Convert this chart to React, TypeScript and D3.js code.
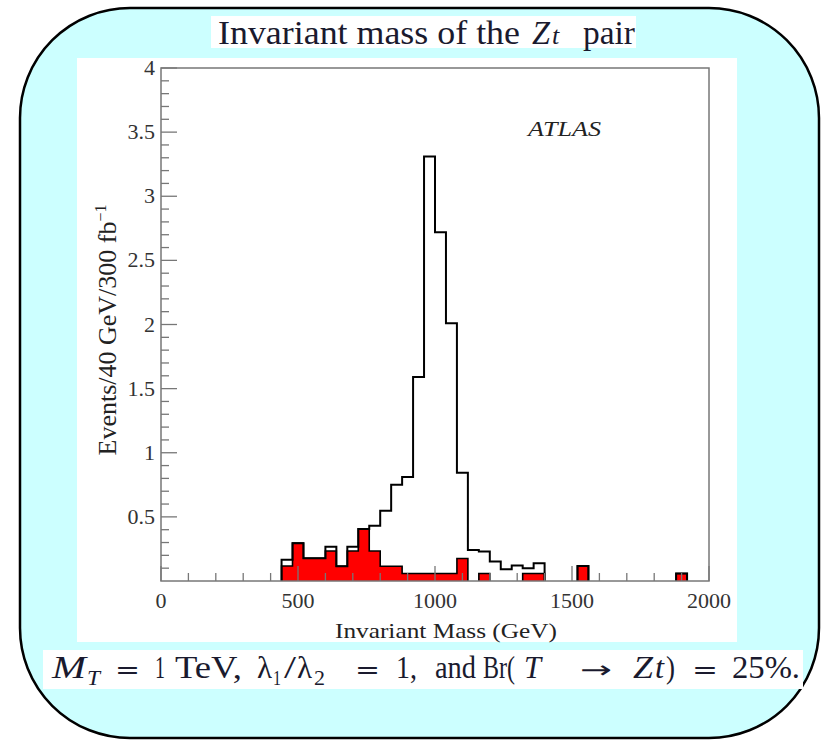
import React from 'react'
import * as d3 from 'd3'

// histogram binning (GeV)
const BIN_START = 440
const BIN_WIDTH = 40

// all events (black outline), 440..1920 GeV
const totalEvents = [
  0.165, 0.295, 0.177, 0.177, 0.268, 0.115, 0.268, 0.405, 0.43, 0.547,
  0.75, 0.81, 1.59, 3.31, 2.72, 2.01, 0.845, 0.242, 0.23, 0.152,
  0.091, 0.12, 0.1, 0.138, 0, 0, 0, 0.117, 0, 0,
  0, 0, 0, 0, 0, 0, 0.058,
]

// background events (red filled), same bins
const bkgEvents = [
  0.117, 0.295, 0.177, 0.177, 0.234, 0.115, 0.234, 0.405, 0.234, 0.115,
  0.115, 0.058, 0.058, 0.058, 0.058, 0.058, 0.175, 0, 0.058, 0,
  0, 0, 0.058, 0.058, 0, 0, 0, 0.117, 0, 0,
  0, 0, 0, 0, 0, 0, 0.058,
]

const xDomain: [number, number] = [0, 2000]
const yDomain: [number, number] = [0, 4]
const xMajorTicks = [0, 500, 1000, 1500, 2000]
const yMajorTicks = [0.5, 1, 1.5, 2, 2.5, 3, 3.5, 4]

const FONT = '"Liberation Serif", "Times New Roman", serif'

// caption pieces: text, left x, width, style
type Piece = { t: string; x: number; w: number; italic?: boolean; sub?: boolean; sym?: boolean }
const captionPieces: Piece[] = [
  { t: 'M', x: 52, w: 34, italic: true },
  { t: 'T', x: 87, w: 13, italic: true, sub: true },
  { t: '=', x: 115, w: 25, sym: true },
  { t: '1', x: 155, w: 10 },
  { t: 'TeV,', x: 175, w: 67 },
  { t: 'λ', x: 257, w: 15 },
  { t: '1', x: 273, w: 8, sub: true },
  { t: '/', x: 284, w: 12 },
  { t: 'λ', x: 297, w: 15 },
  { t: '2', x: 314, w: 11, sub: true },
  { t: '=', x: 355, w: 25, sym: true },
  { t: '1,', x: 396, w: 21 },
  { t: 'and', x: 435, w: 41 },
  { t: 'Br(', x: 483, w: 32 },
  { t: 'T', x: 524, w: 17, italic: true },
  { t: '→', x: 580, w: 32, sym: true },
  { t: 'Z', x: 633, w: 20, italic: true },
  { t: 't', x: 655, w: 9, italic: true },
  { t: ')', x: 666, w: 9 },
  { t: '=', x: 692, w: 26, sym: true },
  { t: '25%.', x: 732, w: 68 },
]

// split a histogram into runs of non-empty bins
function nonEmptyRuns(values: number[]) {
  const out: number[][] = []
  let cur: number[] | null = null
  values.forEach((v, i) => {
    if (v > 0) {
      if (!cur) { cur = []; out.push(cur) }
      cur.push(i)
    } else cur = null
  })
  return out
}

function stepPoints(values: number[], idx: number[]): [number, number][] {
  const pts: [number, number][] = []
  pts.push([BIN_START + idx[0] * BIN_WIDTH, 0])
  idx.forEach(i => {
    const lo = BIN_START + i * BIN_WIDTH
    pts.push([lo, values[i]], [lo + BIN_WIDTH, values[i]])
  })
  pts.push([BIN_START + (idx[idx.length - 1] + 1) * BIN_WIDTH, 0])
  return pts
}

export default function App() {
  const x = d3.scaleLinear().domain(xDomain).range([161, 709])
  const y = d3.scaleLinear().domain(yDomain).range([581, 68])

  const line = d3.line<[number, number]>().x(d => x(d[0])).y(d => y(d[1]))

  const xMinor = d3.range(0, 2001, 100).filter(v => v % 500 !== 0)
  const yMinor = d3.range(1, 40).map(v => v / 10).filter(v => Math.round(v * 10) % 5 !== 0)
  const fmt = d3.format('~g')

  const [x0, x1] = x.range()
  const [y0, y1] = y.range()

  return (
    <svg width={821} height={740} style={{ position: 'fixed', left: 0, top: 0, background: '#fff' }}>
      {/* slide background */}
      <rect x={20} y={8} width={799} height={730} rx={110} ry={110}
        fill="#ccffff" stroke="#000" strokeWidth={2.5} />

      {/* title */}
      <rect x={211} y={16} width={425} height={32} fill="#fff" />
      <g fontFamily={FONT} fontSize={34} fill="#1a1a2e">
        <text x={218} y={44} textLength={302} lengthAdjust="spacingAndGlyphs">Invariant mass of the</text>
        <text x={532} y={44} fontStyle="italic" textLength={18} lengthAdjust="spacingAndGlyphs">Z</text>
        <text x={552} y={44} fontStyle="italic" fontSize={26}>t</text>
        <text x={583} y={44} textLength={52} lengthAdjust="spacingAndGlyphs">pair</text>
      </g>

      {/* plot panel */}
      <rect x={77} y={58} width={660} height={584} fill="#fff" />

      {/* red (background) histogram */}
      {nonEmptyRuns(bkgEvents).map((idx, k) => (
        <path key={'r' + k} d={line(stepPoints(bkgEvents, idx)) || ''}
          fill="#ff0000" stroke="#000" strokeWidth={1.6} />
      ))}

      {/* total histogram */}
      {nonEmptyRuns(totalEvents).map((idx, k) => (
        <path key={'t' + k} d={line(stepPoints(totalEvents, idx)) || ''}
          fill="none" stroke="#000" strokeWidth={2} />
      ))}

      {/* frame */}
      <rect x={x0} y={y1} width={x1 - x0} height={y0 - y1} fill="none" stroke="#777" strokeWidth={1.5} />

      {/* x ticks */}
      {xMajorTicks.map(v => (
        <line key={'xM' + v} x1={x(v)} x2={x(v)} y1={y0} y2={y0 - 15} stroke="#777" strokeWidth={1.3} />
      ))}
      {xMinor.map(v => (
        <line key={'xm' + v} x1={x(v)} x2={x(v)} y1={y0} y2={y0 - 8} stroke="#777" strokeWidth={1.3} />
      ))}
      {/* y ticks */}
      {yMajorTicks.map(v => (
        <line key={'yM' + v} x1={x0} x2={x0 + 16} y1={y(v)} y2={y(v)} stroke="#777" strokeWidth={1.3} />
      ))}
      {yMinor.map(v => (
        <line key={'ym' + v} x1={x0} x2={x0 + 8} y1={y(v)} y2={y(v)} stroke="#777" strokeWidth={1.3} />
      ))}

      <g fontFamily={FONT} fontSize={22} fill="#333">
        {xMajorTicks.map(v => (
          <text key={'xl' + v} x={x(v)} y={608} textAnchor="middle">{fmt(v)}</text>
        ))}
        {yMajorTicks.map(v => (
          <text key={'yl' + v} x={155} y={y(v) + 7} textAnchor="end">{fmt(v)}</text>
        ))}
      </g>

      {/* axis titles */}
      <text x={335} y={638} fontFamily={FONT} fontSize={22} fill="#222"
        textLength={222} lengthAdjust="spacingAndGlyphs">Invariant Mass (GeV)</text>
      <text transform="translate(116,330) rotate(-90)" textAnchor="middle" fontFamily={FONT} fontSize={26} fill="#222">
        Events/40 GeV/300 fb<tspan fontSize={16} dy={-10}>−1</tspan>
      </text>

      <text x={528} y={136} fontFamily={FONT} fontStyle="italic" fontSize={22} fill="#222"
        textLength={73} lengthAdjust="spacingAndGlyphs">ATLAS</text>

      {/* caption */}
      <rect x={43} y={650} width={760} height={39} fill="#fff" />
      <g fill="#1a1a2e">
        {captionPieces.map((p, i) => (
          <text key={i} x={p.x} y={p.sub ? 685 : 678}
            fontStyle={p.italic ? 'italic' : 'normal'}
            fontFamily={p.sym ? '"DejaVu Sans"' : FONT}
            fontSize={p.sub ? 21 : p.sym ? 24 : 32}
            textLength={p.w} lengthAdjust="spacingAndGlyphs">{p.t}</text>
        ))}
      </g>
    </svg>
  )
}
